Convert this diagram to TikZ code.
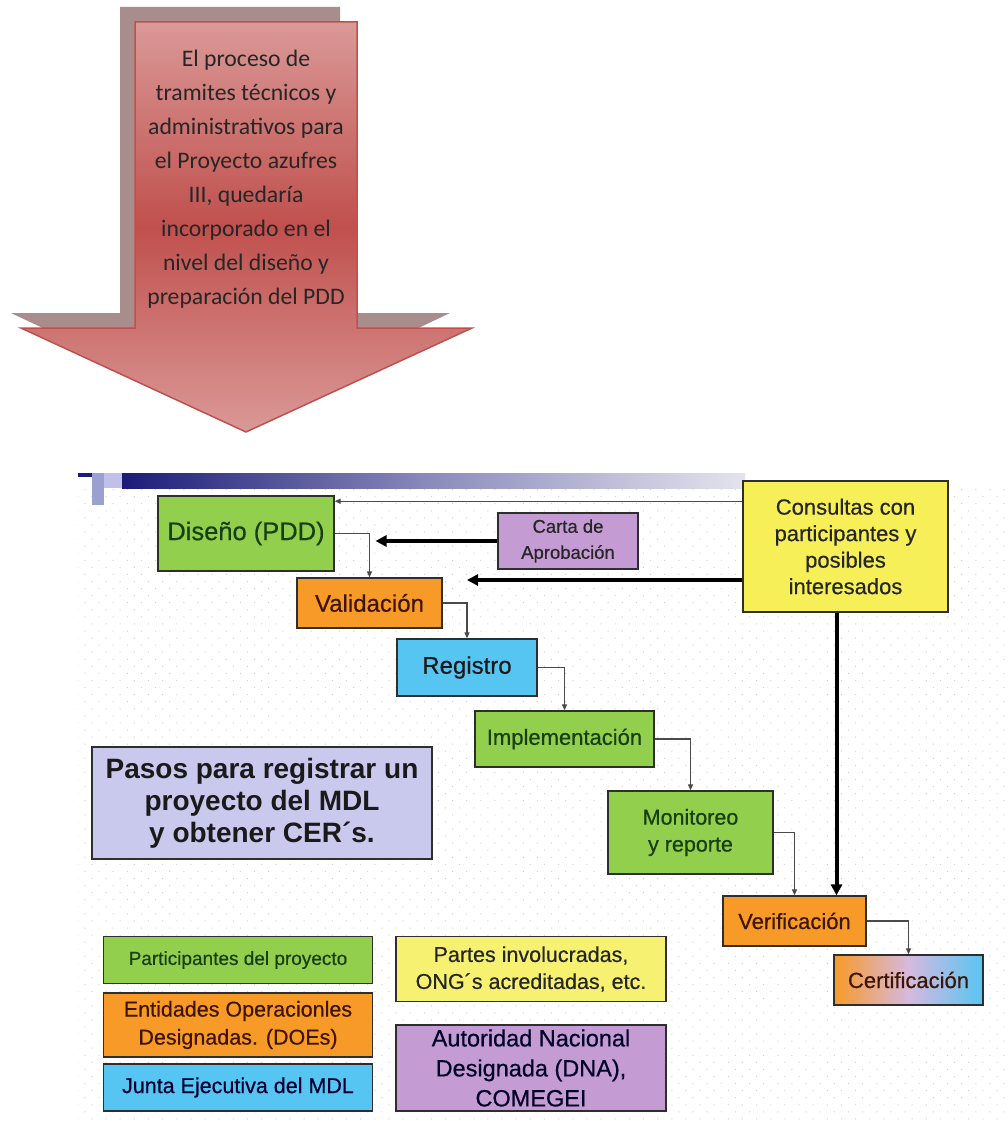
\documentclass[tikz,border=0pt]{standalone}
\usepackage{fontspec}
\setmainfont{Liberation Sans}
\newfontfamily\dfont{Liberation Sans}[FakeBold=0.5]
\newfontfamily\calib{Carlito}
\usetikzlibrary{arrows.meta,calc,patterns.meta,shadings}
\definecolor{shadowc}{HTML}{A98C8C}
\definecolor{arrlight}{HTML}{DA9997}
\definecolor{arrdark}{HTML}{C0504D}
\definecolor{arrborder}{HTML}{C0504D}
\definecolor{navyc}{HTML}{1C1C78}
\definecolor{barmid}{HTML}{8C8CBC}
\definecolor{barlight}{HTML}{E4E4EE}
\definecolor{sqa}{HTML}{9AA0D0}
\definecolor{sqb}{HTML}{C0C0E8}
\definecolor{greenc}{HTML}{92CF4C}
\definecolor{orangec}{HTML}{F89A28}
\definecolor{bluec}{HTML}{57C5F2}
\definecolor{purplec}{HTML}{C49BD2}
\definecolor{yellowc}{HTML}{F6EF58}
\definecolor{lavc}{HTML}{C9C9EE}
\definecolor{boxline}{HTML}{2E2E2E}
\definecolor{txtgreen}{HTML}{173F12}
\definecolor{txtbrown}{HTML}{3E1500}
\definecolor{txtdark}{HTML}{1A1A1A}
\definecolor{connc}{HTML}{4A4A4A}
\tikzset{
  box/.style={draw=boxline, line width=1.3pt, inner sep=0pt, align=center, text=txtdark},
  thinarrow/.style={draw=connc, line width=1.2pt, -{Triangle[length=6pt,width=5pt]}},
  thickarrow/.style={draw=black, line width=4pt, -{Triangle[length=11pt,width=11pt]}},
}
\begin{document}
\begin{tikzpicture}[x=1pt,y=-1pt]
\useasboundingbox (0,0) rectangle (1007,1126);
\fill[white] (0,0) rectangle (1007,1126);

% ---- top arrow ----
\fill[shadowc] (120,7) -- (340,7) -- (340,313) -- (450,313) -- (231,417) -- (11,313) -- (120,313) -- cycle;
\draw[arrborder, line width=1.5pt, top color=arrlight, bottom color=arrlight, middle color=arrdark]
  (135,22) -- (357,22) -- (357,328) -- (472,328) -- (246,432) -- (21,328) -- (135,328) -- cycle;
\node[font=\calib\fontsize{23.7}{34}\selectfont, align=center, text=black!85] (arrtxt) at (246,179)
 {El proceso de\\tramites técnicos y\\administrativos para\\el Proyecto azufres\\III, quedaría\\incorporado en el\\nivel del diseño y\\preparación del PDD};

% ---- slide background ----
\fill[pattern={Dots[distance=10pt,radius=0.7pt,angle=45]}, pattern color=black!18] (78,488) rectangle (1007,1120);
\shade[left color=navyc, right color=barlight, middle color=barmid] (122,473) rectangle (745,488);
\fill[navyc] (78,473) rectangle (92,477);
\fill[sqa] (92,473) rectangle (104,505);
\fill[sqb] (104,473) rectangle (122,488);

% ---- process boxes ----
\node[box, fill=greenc, minimum width=176pt, minimum height=75pt, text=txtgreen, font=\dfont\fontsize{25.5}{28}\selectfont] (dis) at (246,533.5) {Diseño (PDD)};
\node[box, fill=orangec, minimum width=145pt, minimum height=50pt, text=txtbrown, font=\dfont\fontsize{24}{28}\selectfont] (val) at (369.5,603) {Validación};
\node[box, fill=purplec, minimum width=140pt, minimum height=56pt, text=black!85, font=\dfont\fontsize{18.5}{26}\selectfont] (car) at (568,541) {Carta de\\Aprobación};
\node[box, fill=yellowc, minimum width=205pt, minimum height=131pt, text=black!85, font=\dfont\fontsize{22}{26.5}\selectfont] (con) at (845.5,546.5) {Consultas con\\participantes y\\posibles\\interesados};
\node[box, fill=bluec, minimum width=140pt, minimum height=57pt, font=\dfont\fontsize{24}{28}\selectfont] (reg) at (467,667.5) {Registro};
\node[box, fill=greenc, minimum width=179pt, minimum height=56pt, text=txtgreen, font=\dfont\fontsize{22}{26}\selectfont] (imp) at (564.5,739) {Implementación};
\node[box, fill=greenc, minimum width=165pt, minimum height=83pt, text=txtgreen, font=\dfont\fontsize{21.5}{27}\selectfont] (mon) at (690.5,832.5) {Monitoreo\\y reporte};
\node[box, fill=orangec, minimum width=143pt, minimum height=50pt, text=txtbrown, font=\dfont\fontsize{22}{26}\selectfont] (ver) at (794.5,921) {Verificación};
\node[box, left color=orangec, right color=bluec, middle color=purplec!70, minimum width=149pt, minimum height=50pt, text=txtbrown, font=\dfont\fontsize{22}{26}\selectfont] (cer) at (908.5,980) {Certificación};

\node[box, fill=lavc, minimum width=340pt, minimum height=112pt, font=\bfseries\fontsize{28}{32}\selectfont] (pas) at (262,803) {Pasos para registrar un\\proyecto del MDL\\y obtener CER´s.};

% ---- legend ----
\node[box, fill=greenc, minimum width=269pt, minimum height=47pt, text=txtgreen, font=\dfont\fontsize{19}{24}\selectfont] (leg1) at (238,960) {Participantes del proyecto};
\node[box, fill=orangec, minimum width=269pt, minimum height=64pt, text=txtbrown, font=\dfont\fontsize{21.5}{28}\selectfont] (leg2) at (238,1025) {Entidades Operacionles\\Designadas. (DOEs)};
\node[box, fill=bluec, minimum width=269pt, minimum height=47pt, text=black!80!blue, font=\dfont\fontsize{21.5}{26}\selectfont] (leg3) at (238,1087.5) {Junta Ejecutiva del MDL};
\node[box, fill=yellowc!85!white, minimum width=270pt, minimum height=65pt, text=black!85, font=\dfont\fontsize{21.5}{27}\selectfont] (leg4) at (531,969) {Partes involucradas,\\ONG´s acreditadas, etc.};
\node[box, fill=purplec, minimum width=270pt, minimum height=86pt, text=black!85!blue, font=\dfont\fontsize{23.5}{30}\selectfont] (leg5) at (531,1068) {Autoridad Nacional\\Designada (DNA),\\COMEGEI};

% ---- connectors ----
\coordinate (cartip) at ($(val.north |- car.west)+(6,0)$);
\coordinate (conbot) at ($(con.south)+(-9,0)$);
\draw[thinarrow] (con.west |- dis.20) -- (dis.20);
\draw[thinarrow] (dis.east) -| (val.north);
\draw[thinarrow] (val.east) -| (reg.north);
\draw[thinarrow] (reg.east) -| (imp.north);
\draw[thinarrow] (imp.east) -| (mon.north);
\draw[thinarrow] (mon.east) -| (ver.north);
\draw[thinarrow] (ver.east) -| (cer.north);
\draw[thickarrow] (car.west) -- (cartip);
\draw[thickarrow] (con.198) -- (reg.north |- con.198);
\draw[thickarrow] (conbot) -- (conbot |- ver.north);
\end{tikzpicture}
\end{document}
